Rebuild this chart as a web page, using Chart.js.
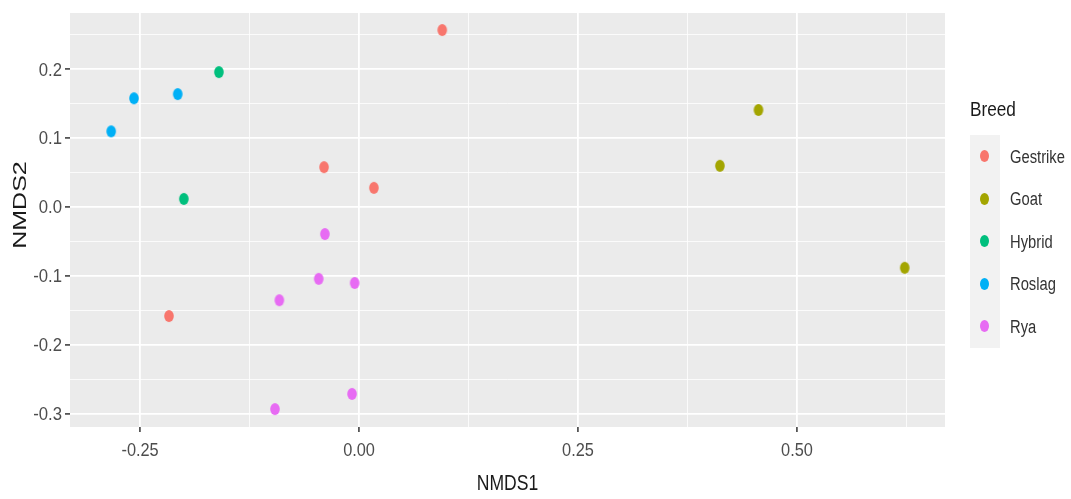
<!DOCTYPE html>
<html>
<head>
<meta charset="utf-8">
<script src="https://cdn.jsdelivr.net/npm/chart.js@4.4.1/dist/chart.umd.min.js"></script>
<style>
  html, body { margin: 0; padding: 0; background: #ffffff; }
  #wrap { position: relative; width: 1071px; height: 499px; overflow: hidden; }
  #legend { position: absolute; left: 970px; top: 97px; font-family: "Liberation Sans", Arial, sans-serif; }
  #legend .title { font-size: 21px; color: #1a1a1a; height: 38px; line-height: 24px; }
  #legend .title span, #legend .lab span { display: inline-block; transform: scaleX(0.82); transform-origin: left center; white-space: nowrap; }
  #legend .item { height: 42.5px; display: flex; align-items: center; }
  #legend .key { width: 30px; height: 42.5px; background: #f2f2f2; display: flex; align-items: center; justify-content: center; }
  #legend .dot { width: 9px; height: 12px; border-radius: 50%; margin-left: -2px; }
  #legend .lab { font-size: 18px; color: #333333; margin-left: 10px; margin-top: 2px; }
</style>
</head>
<body>
<div id="wrap">
  <canvas id="c" width="1071" height="499"></canvas>
  <div id="legend"></div>
</div>
<script>
// ---- data ----
const breeds = ["Gestrike", "Goat", "Hybrid", "Roslag", "Rya"];
const colors = ["#F8766D", "#A3A500", "#00BF7D", "#00B0F6", "#E76BF3"];

const gestrikeX = [0.095, -0.040, 0.017, -0.217];
const gestrikeY = [0.257, 0.058, 0.028, -0.158];
const goatX = [0.456, 0.412, 0.623];
const goatY = [0.141, 0.060, -0.088];
const hybridX = [-0.160, -0.200];
const hybridY = [0.196, 0.012];
const roslagX = [-0.283, -0.257, -0.207];
const roslagY = [0.110, 0.158, 0.164];
const ryaX = [-0.039, -0.091, -0.046, -0.005, -0.096, -0.008];
const ryaY = [-0.039, -0.135, -0.104, -0.110, -0.293, -0.271];

const xMajorTicks = [-0.25, 0.00, 0.25, 0.50];
const xMinorTicks = [-0.125, 0.125, 0.375, 0.625];
const yMajorTicks = [-0.3, -0.2, -0.1, 0.0, 0.1, 0.2];
const yMinorTicks = [-0.25, -0.15, -0.05, 0.05, 0.15, 0.25];
const xTickLabels = ["-0.25", "0.00", "0.25", "0.50"];
const yTickLabels = ["-0.3", "-0.2", "-0.1", "0.0", "0.1", "0.2"];
const xTitle = "NMDS1";
const yTitle = "NMDS2";
const legendTitle = "Breed";

const seriesX = [gestrikeX, goatX, hybridX, roslagX, ryaX];
const seriesY = [gestrikeY, goatY, hybridY, roslagY, ryaY];

// ellipse marker images (the reference is slightly squeezed horizontally)
function markerImage(color) {
  const c = document.createElement('canvas');
  c.width = 12; c.height = 14;
  const g = c.getContext('2d');
  g.fillStyle = color;
  g.beginPath();
  g.ellipse(6, 7, 4.8, 6.0, 0, 0, Math.PI * 2);
  g.fill();
  return c;
}

const datasets = breeds.map((b, i) => ({
  label: b,
  data: seriesX[i].map((x, j) => ({ x: x, y: seriesY[i][j] })),
  pointStyle: markerImage(colors[i]),
  backgroundColor: colors[i],
  borderColor: colors[i],
  pointRadius: 6,
  pointHoverRadius: 6
}));

const isMinor = (v, list) => list.some(m => Math.abs(m - v) < 1e-9);
const FONT = '"Liberation Sans", Arial, sans-serif';

const panelBg = {
  id: 'panelBg',
  beforeDraw(chart) {
    const a = chart.chartArea, ctx = chart.ctx;
    ctx.save();
    ctx.fillStyle = '#EBEBEB';
    ctx.fillRect(a.left, a.top, a.right - a.left, a.bottom - a.top);
    ctx.restore();
  }
};

function squeezedText(ctx, text, x, y, sx, align) {
  ctx.save();
  ctx.translate(x, y);
  ctx.scale(sx, 1);
  ctx.textAlign = align;
  ctx.fillText(text, 0, 0);
  ctx.restore();
}

const axisText = {
  id: 'axisText',
  afterDraw(chart) {
    const a = chart.chartArea, ctx = chart.ctx;
    const xs = chart.scales.x, ys = chart.scales.y;
    ctx.save();
    ctx.textBaseline = 'middle';
    // tick labels
    ctx.fillStyle = '#4D4D4D';
    ctx.font = '19px ' + FONT;
    xMajorTicks.forEach((v, i) => squeezedText(ctx, xTickLabels[i], xs.getPixelForValue(v), a.bottom + 24, 0.86, 'center'));
    yMajorTicks.forEach((v, i) => squeezedText(ctx, yTickLabels[i], a.left - 8, ys.getPixelForValue(v) + 1, 0.88, 'right'));
    // axis titles
    ctx.fillStyle = '#1a1a1a';
    ctx.font = '22px ' + FONT;
    squeezedText(ctx, xTitle, (a.left + a.right) / 2, 484, 0.8, 'center');
    ctx.translate(21, 205);
    ctx.rotate(-Math.PI / 2);
    ctx.scale(1, 0.7);
    ctx.font = '25px ' + FONT;
    ctx.textAlign = 'center';
    ctx.fillText(yTitle, 0, 0);
    ctx.restore();
  }
};

new Chart(document.getElementById('c'), {
  type: 'scatter',
  data: { datasets },
  plugins: [panelBg, axisText],
  options: {
    responsive: false,
    animation: false,
    layout: { padding: { top: 13, right: 126, left: 0, bottom: 0 } },
    plugins: { legend: { display: false }, tooltip: { enabled: false } },
    scales: {
      x: {
        type: 'linear',
        min: -0.33, max: 0.669,
        afterBuildTicks(s) { s.ticks = xMajorTicks.concat(xMinorTicks).sort((a, b) => a - b).map(v => ({ value: v })); },
        afterFit(s) { s.height = 72; },
        border: { display: false },
        grid: {
          color: '#ffffff',
          lineWidth: ctx => isMinor(ctx.tick.value, xMinorTicks) ? 0.8 : 1.8,
          tickColor: ctx => isMinor(ctx.tick.value, xMinorTicks) ? 'rgba(0,0,0,0)' : '#555555',
          tickLength: 5,
          drawTicks: true
        },
        ticks: { color: 'rgba(0,0,0,0)', font: { size: 12 }, maxRotation: 0, autoSkip: false, callback: () => '' }
      },
      y: {
        type: 'linear',
        min: -0.319, max: 0.2817,
        afterBuildTicks(s) { s.ticks = yMajorTicks.concat(yMinorTicks).sort((a, b) => a - b).map(v => ({ value: v })); },
        afterFit(s) { s.width = 70; },
        border: { display: false },
        grid: {
          color: '#ffffff',
          lineWidth: ctx => isMinor(ctx.tick.value, yMinorTicks) ? 0.8 : 1.8,
          tickColor: ctx => isMinor(ctx.tick.value, yMinorTicks) ? 'rgba(0,0,0,0)' : '#555555',
          tickLength: 5,
          drawTicks: true
        },
        ticks: { color: 'rgba(0,0,0,0)', font: { size: 12 }, autoSkip: false, callback: () => '' }
      }
    }
  }
});

// legend (HTML, real text)
const lg = document.getElementById('legend');
let html = '<div class="title"><span>' + legendTitle + '</span></div><div class="keys">';
breeds.forEach((b, i) => {
  html += '<div class="item"><div class="key"><div class="dot" style="background:' + colors[i] + '"></div></div><div class="lab"><span>' + b + '</span></div></div>';
});
html += '</div>';
lg.innerHTML = html;
</script>
</body>
</html>
